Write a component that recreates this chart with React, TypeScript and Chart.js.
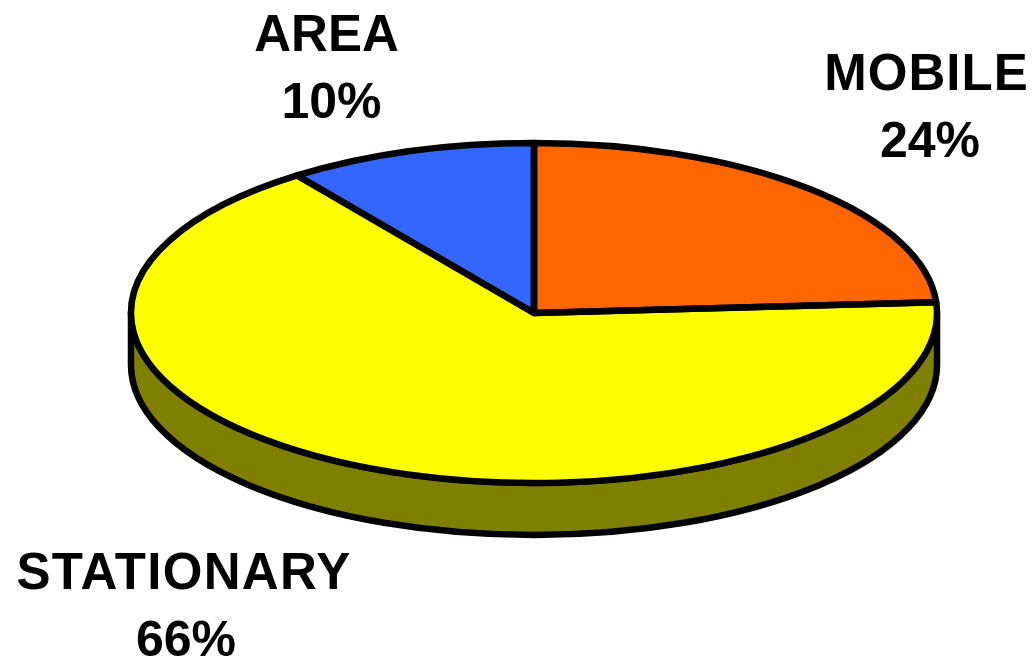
import React, { useEffect, useRef } from "react";
import { Chart, registerables } from "chart.js";

Chart.register(...registerables);

const categories = ["MOBILE", "STATIONARY", "AREA"];
const shares = [24, 66, 10];
const topColors = ["#FF6600", "#FFFF00", "#3366FF"];
const sideColors = ["#803300", "#808000", "#1A3380"];

// Projection of the round pie on to the tilted ellipse seen in the picture.
const CENTER_X = 534;
const CENTER_Y = 313;
const RADIUS_X = 403;
const RADIUS_Y = 170;
const DEPTH = 52;
const OUTLINE = 6.5;

const labelAnchors = [
  { nameX: 926.5, valueX: 930, nameY: 90, valueY: 157, spacing: 1 },
  { nameX: 184, valueX: 186, nameY: 589, valueY: 656, spacing: 1.3 },
  { nameX: 326.5, valueX: 331.5, nameY: 51, valueY: 118, spacing: 0 },
];

const tiltPlugin = {
  id: "tilt",
  beforeDatasetsDraw(chart: any) {
    const ctx = chart.ctx;
    const arcs = chart.getDatasetMeta(0).data;
    ctx.save();
    ctx.lineWidth = OUTLINE;
    ctx.lineJoin = "round";
    ctx.strokeStyle = "#000";
    arcs.forEach((arc: any, i: number) => {
      // only the front half of the pie shows its wall
      const a0 = Math.max(arc.startAngle, 0);
      const a1 = Math.min(arc.endAngle, Math.PI);
      if (a1 <= a0) return;
      ctx.beginPath();
      ctx.ellipse(CENTER_X, CENTER_Y, RADIUS_X, RADIUS_Y, 0, a0, a1, false);
      ctx.ellipse(CENTER_X, CENTER_Y + DEPTH, RADIUS_X, RADIUS_Y, 0, a1, a0, true);
      ctx.closePath();
      ctx.fillStyle = sideColors[i];
      ctx.fill();
      ctx.stroke();
    });
    ctx.restore();
  },
  beforeDatasetDraw(chart: any) {
    const ctx = chart.ctx;
    const arc = chart.getDatasetMeta(0).data[0];
    ctx.save();
    ctx.translate(CENTER_X, CENTER_Y);
    ctx.scale(RADIUS_X / arc.outerRadius, RADIUS_Y / arc.outerRadius);
    ctx.translate(-arc.x, -arc.y);
  },
  afterDatasetDraw(chart: any) {
    const ctx = chart.ctx;
    ctx.restore();
    const arcs = chart.getDatasetMeta(0).data;
    ctx.save();
    ctx.lineWidth = OUTLINE;
    ctx.lineJoin = "round";
    ctx.strokeStyle = "#000";
    arcs.forEach((arc: any) => {
      ctx.beginPath();
      ctx.moveTo(CENTER_X, CENTER_Y);
      ctx.ellipse(CENTER_X, CENTER_Y, RADIUS_X, RADIUS_Y, 0, arc.startAngle, arc.endAngle, false);
      ctx.closePath();
      ctx.stroke();
    });
    ctx.restore();
  },
  afterDraw(chart: any) {
    const ctx = chart.ctx;
    ctx.save();
    ctx.fillStyle = "#000";
    ctx.textAlign = "center";
    ctx.textBaseline = "alphabetic";
    categories.forEach((name, i) => {
      const a = labelAnchors[i];
      ctx.font = 'bold 51px "Liberation Sans"';
      ctx.letterSpacing = `${a.spacing}px`;
      ctx.fillText(name, a.nameX, a.nameY);
      ctx.font = 'bold 50px "Liberation Sans"';
      ctx.letterSpacing = "0px";
      ctx.fillText(`${shares[i]}%`, a.valueX, a.valueY);
    });
    ctx.restore();
  },
};

export default function App() {
  const ref = useRef<HTMLCanvasElement>(null);
  useEffect(() => {
    const chart = new Chart(ref.current as HTMLCanvasElement, {
      type: "pie",
      data: {
        labels: categories,
        datasets: [
          {
            data: shares,
            backgroundColor: topColors,
            borderWidth: 0,
            clip: false,
          } as any,
        ],
      },
      options: {
        responsive: false,
        animation: false,
        devicePixelRatio: 1,
        layout: { padding: 0 },
        plugins: { legend: { display: false }, tooltip: { enabled: false } },
      },
      plugins: [tiltPlugin],
    });
    return () => chart.destroy();
  }, []);
  return (
    <canvas
      ref={ref}
      width={1032}
      height={660}
      style={{ position: "absolute", left: 0, top: 0, display: "block", background: "#fff" }}
    />
  );
}
